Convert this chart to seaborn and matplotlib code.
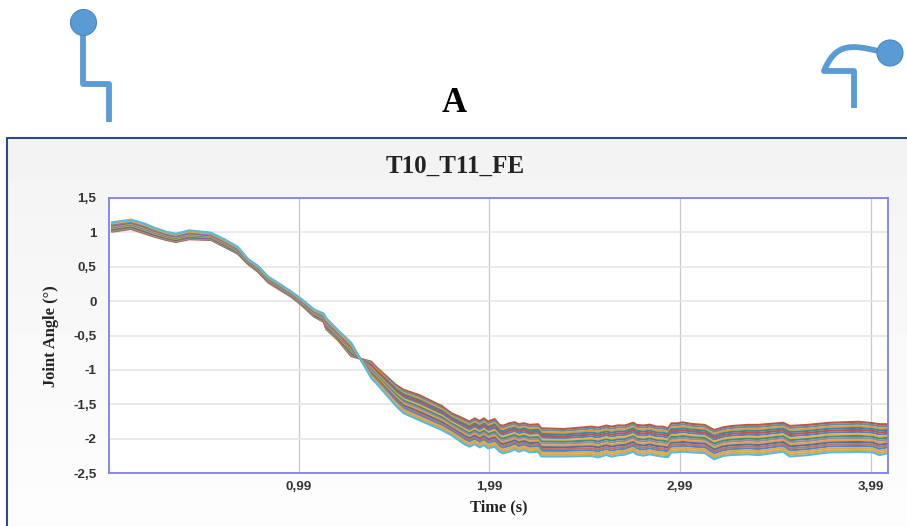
import matplotlib
matplotlib.use("Agg")
import matplotlib.pyplot as plt
from matplotlib.path import Path
from matplotlib.patches import PathPatch, Circle
import numpy as np
import pandas as pd
import seaborn as sns

# envelope of the bundle
tiempo = [0.01, 0.11, 0.18, 0.23, 0.295, 0.345, 0.415, 0.53, 0.60, 0.67, 0.725, 0.775, 0.83, 0.885,
          0.95, 1.0, 1.07, 1.12, 1.135, 1.195, 1.265, 1.37, 1.395, 1.50, 1.54, 1.62, 1.72, 1.74, 1.79,
          1.86, 1.886, 1.912, 1.939, 1.961, 1.983, 2.017, 2.044, 2.061, 2.096, 2.122, 2.143, 2.171, 2.2,
          2.245, 2.262, 2.38, 2.525, 2.56, 2.603, 2.63, 2.665, 2.70, 2.744, 2.761, 2.796, 2.831, 2.866,
          2.9, 2.926, 2.944, 2.97, 3.005, 3.049, 3.119, 3.168, 3.215, 3.259, 3.346, 3.40, 3.53, 3.565,
          3.66, 3.77, 3.925, 4.0, 4.035, 4.075]
borde_sup = [1.146, 1.185, 1.13, 1.07, 1.01, 0.98, 1.03, 0.995, 0.90, 0.79, 0.61, 0.515, 0.355, 0.26,
             0.14, 0.04, -0.12, -0.18, -0.25, -0.42, -0.605, -0.88, -0.955, -1.22, -1.29, -1.365, -1.50, -1.525, -1.63,
             -1.715, -1.753, -1.705, -1.744, -1.705, -1.753, -1.715, -1.802, -1.812, -1.776, -1.762, -1.791, -1.776, -1.80,
             -1.791, -1.85, -1.86, -1.826, -1.84, -1.81, -1.826, -1.807, -1.81, -1.768, -1.80, -1.81, -1.797, -1.826,
             -1.826, -1.85, -1.778, -1.778, -1.764, -1.787, -1.80, -1.875, -1.836, -1.817, -1.80, -1.80, -1.77, -1.815,
             -1.80, -1.77, -1.755, -1.775, -1.79, -1.79]
borde_inf = [1.01, 1.05, 0.985, 0.94, 0.89, 0.86, 0.90, 0.89, 0.79, 0.69, 0.535, 0.43, 0.27, 0.175,
             0.065, -0.045, -0.225, -0.30, -0.41, -0.565, -0.80, -1.12, -1.19, -1.525, -1.63, -1.73, -1.85, -1.875, -1.95,
             -2.083, -2.117, -2.083, -2.127, -2.093, -2.142, -2.117, -2.19, -2.214, -2.19, -2.156, -2.19, -2.165, -2.20,
             -2.19, -2.26, -2.26, -2.253, -2.273, -2.238, -2.262, -2.243, -2.233, -2.19, -2.228, -2.248, -2.228, -2.248,
             -2.262, -2.27, -2.20, -2.20, -2.19, -2.20, -2.21, -2.30, -2.253, -2.238, -2.228, -2.24, -2.19, -2.26,
             -2.24, -2.20, -2.195, -2.20, -2.24, -2.215]

# the single traces can't be read one by one: they are only placed inside the envelope
colores = ["#c0573a", "#5f8fa8", "#e8963c", "#2f8f9f", "#c8504a", "#4f7fc8", "#f0b038", "#3f8f7f", "#9a86a8",
           "#e0a63c", "#4f6fa8", "#c9705a", "#4a86d0", "#e0aa48", "#d8a850", "#5ab8dc"]
t_cruce = 1.33  # the colour order in the bundle flips here

y_ticks = [1.5, 1, 0.5, 0, -0.5, -1, -1.5, -2, -2.5]
y_labels = ["1,5", "1", "0,5", "0", "-0,5", "-1", "-1,5", "-2", "-2,5"]
x_ticks = [0.99, 1.99, 2.99, 3.99]
x_labels = ["0,99", "1,99", "2,99", "3,99"]

t = np.array(tiempo)
sup = np.array(borde_sup)
inf = np.array(borde_inf)
filas = []
for i in range(len(colores)):
    f = 1 - i / (len(colores) - 1)
    pos = np.where(t < t_cruce, 1 - f, f)
    filas.append(pd.DataFrame({"t": t, "angulo": inf + pos * (sup - inf), "traza": i}))
df = pd.concat(filas)

sns.set_theme(style="white")
plt.rcParams["font.family"] = ["Liberation Sans", "DejaVu Sans"]

fig = plt.figure(figsize=(9.07, 5.26), dpi=100)
W, H = 907, 526

# background layer in pixel coordinates: panel and the two posture icons
fondo = fig.add_axes([0, 0, 1, 1], zorder=0)
fondo.axis("off")
gradiente = np.linspace(0.953, 0.992, 100).reshape(-1, 1)
fondo.imshow(gradiente, extent=[7, W, H, 138], aspect="auto", cmap="gray", vmin=0, vmax=1)
fondo.set_xlim(0, W)
fondo.set_ylim(H, 0)
fondo.plot([7, 7], [H, 138], color="#2f4b78", lw=1.5)
fondo.plot([7, W], [138, 138], color="#2f4b78", lw=1.5)

azul = "#5b9bd5"
fondo.plot([83, 83, 109, 109], [35, 84, 84, 122], color=azul, lw=4.2, solid_joinstyle="round", solid_capstyle="butt")
fondo.add_patch(Circle((83.5, 22.5), 13, fc=azul, ec="#4a86bd", lw=0.8, zorder=3))
cabeza = Path([(878, 51), (850, 44), (835, 44), (824, 71), (854, 71), (854, 108)],
              [Path.MOVETO, Path.CURVE4, Path.CURVE4, Path.CURVE4, Path.LINETO, Path.LINETO])
fondo.add_patch(PathPatch(cabeza, fc="none", ec=azul, lw=4.2, joinstyle="round", capstyle="butt"))
fondo.add_patch(Circle((890, 53), 13, fc=azul, ec="#4a86bd", lw=0.8, zorder=3))

fondo.text(454, 103, "A", family="Liberation Serif", weight="bold", fontsize=25, ha="center", va="center", color="black")
fondo.text(455, 166, "T10_T11_FE", family="Liberation Serif", weight="bold", fontsize=18, ha="center", va="center",
           color="#222222")

# main chart
ax = fig.add_axes([109 / W, (H - 473) / H, 779 / W, 275 / H], zorder=1)
sns.lineplot(data=df, x="t", y="angulo", hue="traza", palette=colores, estimator=None, units="traza",
             legend=False, lw=1.5, ax=ax)
ax.set_xlim(-0.005, 4.08)
ax.set_ylim(-2.5, 1.5)
ax.set_yticks(y_ticks)
ax.set_yticklabels(y_labels)
ax.set_xticks(x_ticks)
ax.set_xticklabels(x_labels)
ax.set_axisbelow(True)
ax.grid(axis="y", color="#e4e4e4", lw=1.1)
ax.grid(axis="x", color="#c8c8c8", lw=0.9)
ax.tick_params(axis="y", length=6.5, width=1, color="#666666", labelsize=9.7, labelcolor="#333333", pad=2.5)
ax.tick_params(axis="x", length=3, width=1, color="#666666", labelsize=9.7, labelcolor="#333333", pad=3)
for etiqueta in ax.get_xticklabels() + ax.get_yticklabels():
    etiqueta.set_fontweight("bold")
for lado in ax.spines.values():
    lado.set_color("#8080ee")
    lado.set_linewidth(1.3)
ax.set_xlabel("")
ax.set_ylabel("")
fondo.text(498.5, 507, "Time (s)", family="Liberation Serif", weight="bold", fontsize=11.8, ha="center", va="center",
           color="#222222")
fondo.text(51, 336, "Joint Angle (°)", family="Liberation Serif", weight="bold", fontsize=11.9, rotation=90, ha="center",
           va="center", color="#222222")

fig.savefig("out.png", dpi=100)
